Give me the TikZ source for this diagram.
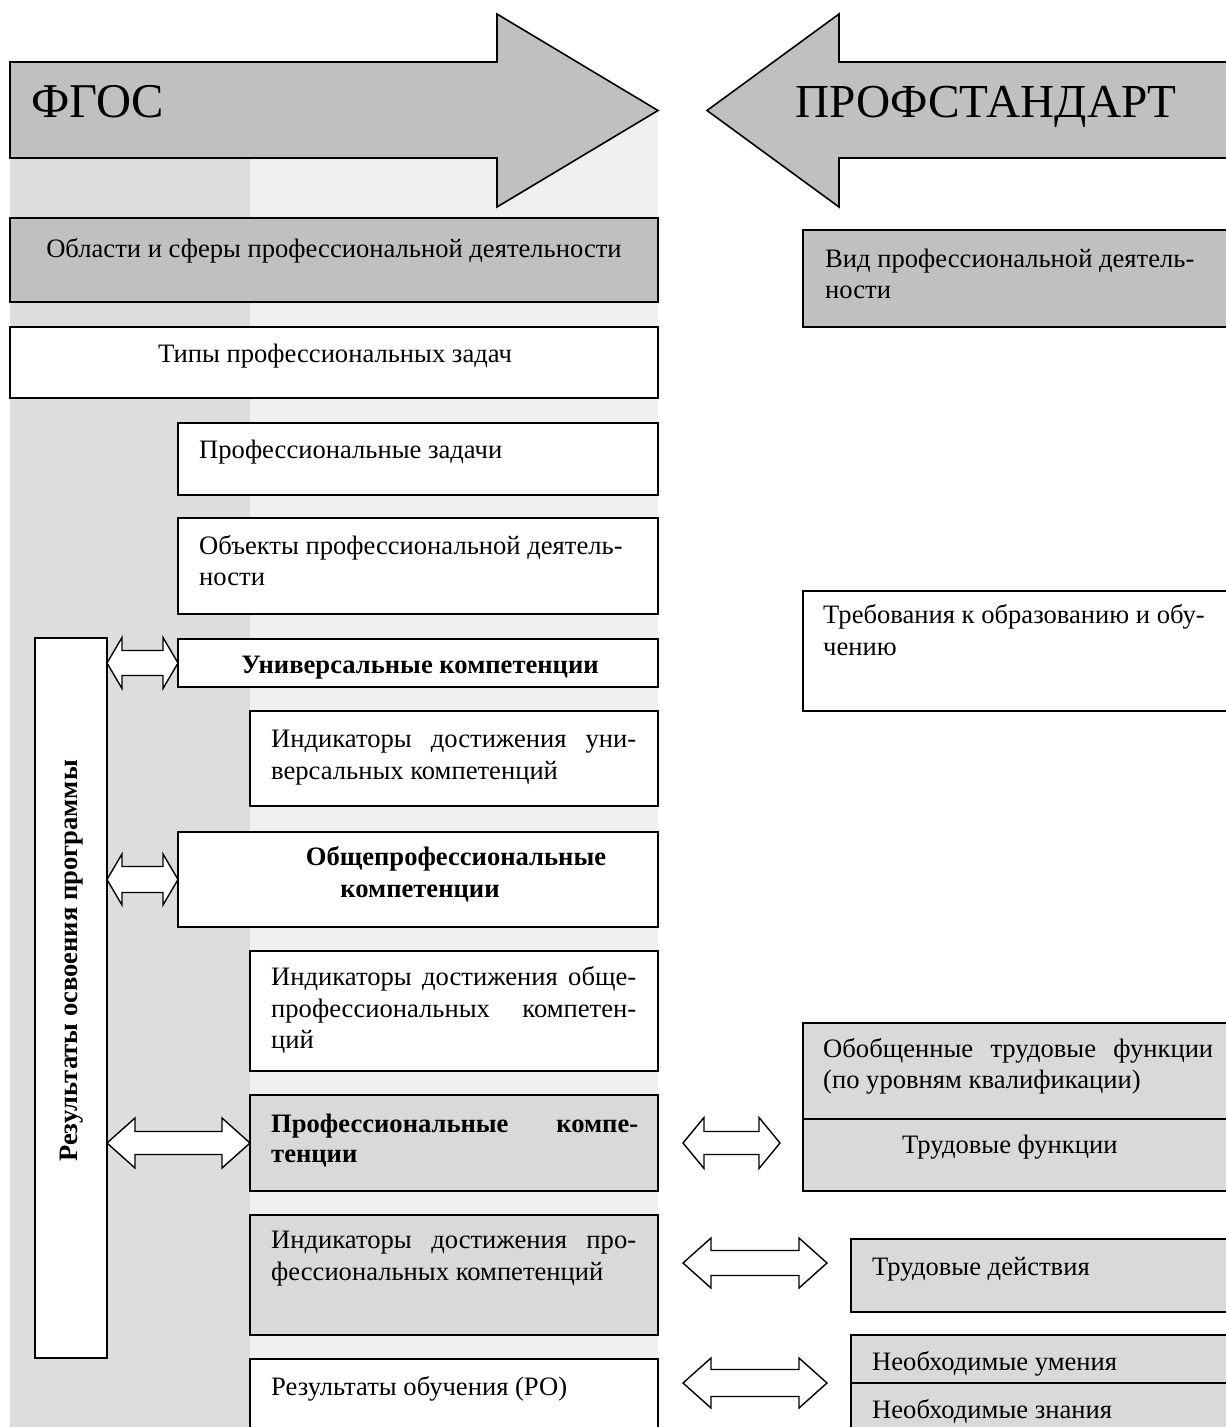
\documentclass[tikz,border=0pt]{standalone}
\usepackage{fontspec}
\setmainfont{Liberation Serif}
\usetikzlibrary{calc}
\definecolor{gA}{HTML}{C0C0C0}
\definecolor{gB}{HTML}{D9D9D9}
\definecolor{bandD}{HTML}{DDDDDD}
\definecolor{bandL}{HTML}{F0F0F0}
\tikzset{
 bx/.style={draw=black, line width=1.6pt, rectangle, inner sep=0pt, outer sep=0pt, anchor=north west},
 txt/.style={inner sep=0pt, font=\fontsize{26.6}{31.5}\selectfont},
 btxt/.style={inner sep=0pt, font=\fontsize{26.6}{31.5}\selectfont\bfseries},
 ttl/.style={inner sep=0pt, anchor=base west, font=\fontsize{48.5}{55}\selectfont},
 bigarrow/.style={draw=black, line width=1.6pt, fill=gA},
 divline/.style={draw=black, line width=1.6pt},
 dbl/.style args={#1/#2/#3}{draw=black, line width=1.4pt, fill=white,
   to path={let \p1=(\tikztostart), \p2=(\tikztotarget) in
     (\x1,\y1) -- (\x1+#3,\y1+#1) -- (\x1+#3,\y1+#2) -- (\x2-#3,\y1+#2) -- (\x2-#3,\y1+#1)
     -- (\x2,\y1) -- (\x2-#3,\y1-#1) -- (\x2-#3,\y1-#2) -- (\x1+#3,\y1-#2) -- (\x1+#3,\y1-#1) -- cycle}},
}
\begin{document}
\begin{tikzpicture}[x=1pt,y=-1pt]
\clip (0,0) rectangle (1226,1427);
\fill[white] (0,0) rectangle (1226,1427);
% background bands
\fill[bandD] (10,110) rectangle (250,1440);
\fill[bandL] (250,110) rectangle (658,1440);
% big arrows
\draw[bigarrow] (10,62) -- (497,62) -- (497,14) -- (658,110.5) -- (497,207) -- (497,158) -- (10,158) -- cycle;
\draw[bigarrow] (1240,62) -- (839,62) -- (839,14) -- (707,110.5) -- (839,207) -- (839,158) -- (1240,158) -- cycle;
\node[ttl] (fgos) at (31,117) {ФГОС};
\node[ttl, font=\fontsize{47.3}{55}\selectfont] (prof) at (795,117) {ПРОФСТАНДАРТ};
% left boxes
\node[bx, fill=gA, minimum width=648pt, minimum height=84pt] (obl) at (10,218) {};
\node[bx, fill=white, minimum width=648pt, minimum height=71pt] (tipy) at (10,327) {};
\node[bx, fill=white, minimum width=480pt, minimum height=72pt] (pz) at (178,423) {};
\node[bx, fill=white, minimum width=480pt, minimum height=96pt] (obj) at (178,518) {};
\node[bx, fill=white, minimum width=480pt, minimum height=48pt] (uk) at (178,639) {};
\node[bx, fill=white, minimum width=408pt, minimum height=95pt] (iuk) at (250,711) {};
\node[bx, fill=white, minimum width=480pt, minimum height=95pt] (opk) at (178,832) {};
\node[bx, fill=white, minimum width=408pt, minimum height=120pt] (iopk) at (250,951) {};
\node[bx, fill=gB, minimum width=408pt, minimum height=96pt] (pk) at (250,1095) {};
\node[bx, fill=gB, minimum width=408pt, minimum height=120pt] (ipk) at (250,1215) {};
\node[bx, fill=white, minimum width=408pt, minimum height=100pt] (ro) at (250,1359) {};
\node[bx, fill=white, minimum width=72pt, minimum height=720pt] (vres) at (35,638) {};
% right boxes
\node[bx, fill=gA, minimum width=450pt, minimum height=97pt] (vid) at (803,230) {};
\node[bx, fill=white, minimum width=450pt, minimum height=120pt] (treb) at (803,591) {};
\node[bx, fill=gB, minimum width=450pt, minimum height=168pt] (obob) at (803,1023) {};
\coordinate (obdiv) at (803,1119);
\draw[divline] (obdiv) -- (obdiv -| obob.east);
\node[bx, fill=gB, minimum width=400pt, minimum height=73pt] (tdey) at (851,1239) {};
\node[bx, fill=gB, minimum width=400pt, minimum height=120pt] (neob) at (851,1335) {};
\coordinate (ndiv) at (851,1383);
\draw[divline] (ndiv) -- (ndiv -| neob.east);
% texts left
\node[txt, anchor=base] (obl-t) at (334,257) {Области и сферы профессиональной деятельности};
\node[txt, anchor=base] (tipy-t) at (335,362) {Типы профессиональных задач};
\node[txt, anchor=base west] (pz-t) at (199,458) {Профессиональные задачи};
\node[txt, anchor=base west] (obj-t1) at (199,554) {Объекты профессиональной деятель-};
\node[txt, anchor=base west] (obj-t2) at (199,585) {ности};
\node[btxt, anchor=base] (uk-t) at (420,673) {Универсальные компетенции};
\node[txt, anchor=base west] (iuk-t1) at (271,747) {\makebox[365pt][s]{Индикаторы достижения уни-}};
\node[txt, anchor=base west] (iuk-t2) at (271,779) {версальных компетенций};
\node[btxt, anchor=base] (opk-t1) at (456,865) {Общепрофессиональные};
\node[btxt, anchor=base] (opk-t2) at (420,897) {компетенции};
\node[txt, anchor=base west] (iopk-t1) at (271,985) {\makebox[365pt][s]{Индикаторы достижения обще-}};
\node[txt, anchor=base west] (iopk-t2) at (271,1017) {\makebox[365pt][s]{профессиональных компетен-}};
\node[txt, anchor=base west] (iopk-t3) at (271,1048) {ций};
\node[btxt, anchor=base west] (pk-t1) at (271,1132) {\makebox[367pt][s]{Профессиональные компе-}};
\node[btxt, anchor=base west] (pk-t2) at (271,1162) {тенции};
\node[txt, anchor=base west] (ipk-t1) at (271,1248) {\makebox[365pt][s]{Индикаторы достижения про-}};
\node[txt, anchor=base west] (ipk-t2) at (271,1280) {фессиональных компетенций};
\node[txt, anchor=base west] (ro-t) at (271,1395) {Результаты обучения (РО)};
\node[btxt, rotate=90] (vres-t) at (72,961) {Результаты освоения программы};
% texts right
\node[txt, anchor=base west] (vid-t1) at (825,267) {Вид профессиональной деятель-};
\node[txt, anchor=base west] (vid-t2) at (825,298) {ности};
\node[txt, anchor=base west] (treb-t1) at (823,623) {Требования к образованию и обу-};
\node[txt, anchor=base west] (treb-t2) at (823,655) {чению};
\node[txt, anchor=base west] (obob-t1) at (823,1057) {\makebox[390pt][s]{Обобщенные трудовые функции}};
\node[txt, anchor=base west] (obob-t2) at (823,1088) {(по уровням квалификации)};
\node[txt, anchor=base west] (obob-t3) at (902,1153) {Трудовые функции};
\node[txt, anchor=base west] (tdey-t) at (872,1275) {Трудовые действия};
\node[txt, anchor=base west] (neob-t1) at (872,1370) {Необходимые умения};
\node[txt, anchor=base west] (neob-t2) at (872,1418) {Необходимые знания};
% double arrows
\coordinate (a1) at (vres.east |- uk.west);
\coordinate (b1) at (vres.east |- opk.west);
\coordinate (c1) at (vres.east |- pk.west);
\coordinate (d1) at ([xshift=25pt]pk.east);
\coordinate (d0) at (pk.east -| obob.west);
\coordinate (d2) at ([xshift=-23pt]d0);
\coordinate (e0) at ([yshift=12pt]ipk.east);
\coordinate (e1) at ([xshift=25pt]e0);
\coordinate (e3) at (e0 -| tdey.west);
\coordinate (e2) at ([xshift=-24pt]e3);
\coordinate (f0) at (ro.east |- ndiv);
\coordinate (f1) at ([xshift=25pt]f0);
\coordinate (f2) at ([xshift=-24pt]ndiv);
\draw[dbl=25.5pt/12.5pt/15pt] (a1) to (uk.west);
\draw[dbl=25.5pt/13pt/15pt] (b1) to (opk.west);
\draw[dbl=25pt/11.5pt/28pt] (c1) to (pk.west);
\draw[dbl=25.5pt/11.5pt/21pt] (d1) to (d2);
\draw[dbl=25pt/12.5pt/28pt] (e1) to (e2);
\draw[dbl=25pt/13.5pt/28pt] (f1) to (f2);
\end{tikzpicture}
\end{document}
